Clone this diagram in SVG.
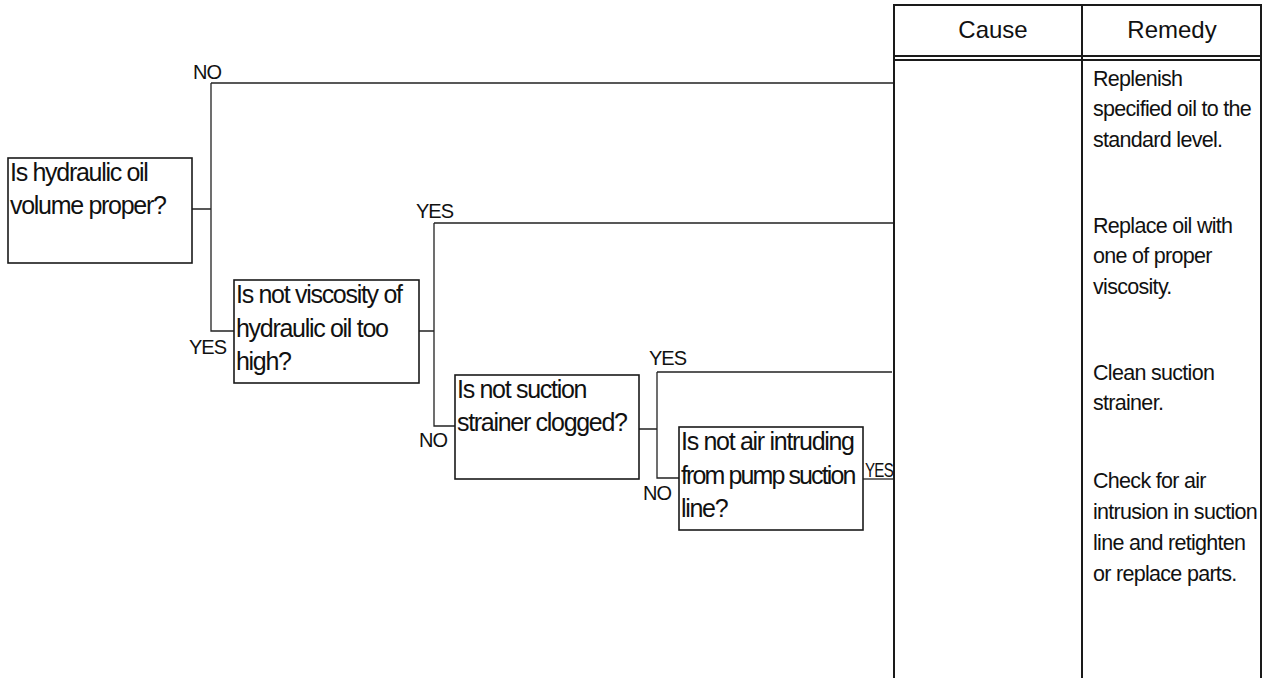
<svg xmlns="http://www.w3.org/2000/svg" width="1263" height="678" viewBox="0 0 1263 678">
<style>
text{font-family:"Liberation Sans",Arial,sans-serif;fill:#111}
.q{font-size:25px;letter-spacing:-1.3px}
.lb{font-size:20px;letter-spacing:-1px}
.rm{font-size:21.5px;letter-spacing:-0.7px}
.hd{font-size:24px;text-anchor:middle}
.box{fill:#fff;stroke:#1a1a1a;stroke-width:1.6}
.ln{fill:none;stroke:#222;stroke-width:1.3}
.tb{fill:none;stroke:#1a1a1a;stroke-width:2}
</style>
<rect width="1263" height="678" fill="#fff"/>
<g id="table">
<path class="tb" d="M894,678 V5 H1261 V678 M1082,5 V678"/>
<path class="tb" d="M894,56 H1261 M894,60 H1261" stroke-width="1.5"/>
<text class="hd" x="993" y="38">Cause</text>
<text class="hd" x="1172" y="38">Remedy</text>
<text class="rm" x="1093" y="86">Replenish</text>
<text class="rm" x="1093" y="116">specified oil to the</text>
<text class="rm" x="1093" y="147">standard level.</text>
<text class="rm" x="1093" y="233">Replace oil with</text>
<text class="rm" x="1093" y="263">one of proper</text>
<text class="rm" x="1093" y="294">viscosity.</text>
<text class="rm" x="1093" y="380">Clean suction</text>
<text class="rm" x="1093" y="410">strainer.</text>
<text class="rm" x="1093" y="488">Check for air</text>
<text class="rm" x="1093" y="519">intrusion in suction</text>
<text class="rm" x="1093" y="550">line and retighten</text>
<text class="rm" x="1093" y="581">or replace parts.</text>
</g>
<g id="connectors">
<path class="ln" d="M192,209 H211 M211,83 V331 H234 M211,83 H893"/>
<path class="ln" d="M419,331 H434 M434,223 V426 H455 M434,223 H893"/>
<path class="ln" d="M639,429 H657 M657,372 V478 H679 M657,372 H892"/>
<path class="ln" d="M863,479 H893"/>
<text class="lb" x="193" y="79">NO</text>
<text class="lb" x="189" y="354">YES</text>
<text class="lb" x="416" y="218">YES</text>
<text class="lb" x="419" y="447">NO</text>
<text class="lb" x="649" y="365">YES</text>
<text class="lb" x="643" y="500">NO</text>
<text class="lb" x="865" y="477" textLength="28" lengthAdjust="spacingAndGlyphs">YES</text>
</g>
<g id="q1">
<rect class="box" x="8" y="158" width="184" height="105"/>
<text class="q" x="10" y="181">Is hydraulic oil</text>
<text class="q" x="10" y="214">volume proper?</text>
</g>
<g id="q2">
<rect class="box" x="234" y="280" width="185" height="103"/>
<text class="q" x="236" y="303">Is not viscosity of</text>
<text class="q" x="236" y="336.5">hydraulic oil too</text>
<text class="q" x="236" y="370">high?</text>
</g>
<g id="q3">
<rect class="box" x="455" y="375" width="184" height="104"/>
<text class="q" x="457" y="398">Is not suction</text>
<text class="q" x="457" y="431">strainer clogged?</text>
</g>
<g id="q4">
<rect class="box" x="679" y="427" width="184" height="103"/>
<text class="q" x="681" y="450">Is not air intruding</text>
<text class="q" x="681" y="483.5" textLength="174" lengthAdjust="spacing">from pump suction</text>
<text class="q" x="681" y="517">line?</text>
</g>
</svg>
